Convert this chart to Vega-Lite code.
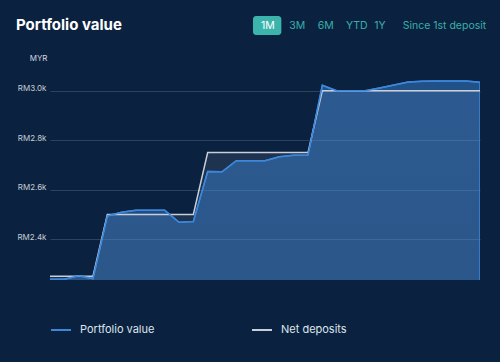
{
  "$schema": "https://vega.github.io/schema/vega-lite/v6.json",
  "width": 430,
  "height": 220,
  "autosize": {"type": "none"},
  "padding": {"left": 50, "top": 60, "right": 20, "bottom": 82},
  "background": "#0a2240",
  "title": {
    "text": "Portfolio value",
    "anchor": "start",
    "frame": "group",
    "dx": -34,
    "dy": 17,
    "offset": 0,
    "fontSize": 15,
    "fontWeight": "bold",
    "color": "#ffffff"
  },
  "datasets": {
    "ranges": [
      {"label": "1M"}, {"label": "3M"}, {"label": "6M"}, {"label": "YTD"}, {"label": "1Y"}, {"label": "Since 1st deposit"}
    ]
  },
  "data": {
    "values": [
      {"day": 0, "series": "Portfolio value", "value": 2238}, {"day": 0, "series": "Net deposits", "value": 2250},
      {"day": 1, "series": "Portfolio value", "value": 2238}, {"day": 1, "series": "Net deposits", "value": 2250},
      {"day": 2, "series": "Portfolio value", "value": 2252}, {"day": 2, "series": "Net deposits", "value": 2250},
      {"day": 3, "series": "Portfolio value", "value": 2241}, {"day": 3, "series": "Net deposits", "value": 2250},
      {"day": 4, "series": "Portfolio value", "value": 2494}, {"day": 4, "series": "Net deposits", "value": 2500},
      {"day": 5, "series": "Portfolio value", "value": 2509}, {"day": 5, "series": "Net deposits", "value": 2500},
      {"day": 6, "series": "Portfolio value", "value": 2517}, {"day": 6, "series": "Net deposits", "value": 2500},
      {"day": 7, "series": "Portfolio value", "value": 2517}, {"day": 7, "series": "Net deposits", "value": 2500},
      {"day": 8, "series": "Portfolio value", "value": 2517}, {"day": 8, "series": "Net deposits", "value": 2500},
      {"day": 9, "series": "Portfolio value", "value": 2468}, {"day": 9, "series": "Net deposits", "value": 2500},
      {"day": 10, "series": "Portfolio value", "value": 2471}, {"day": 10, "series": "Net deposits", "value": 2500},
      {"day": 11, "series": "Portfolio value", "value": 2673}, {"day": 11, "series": "Net deposits", "value": 2750},
      {"day": 12, "series": "Portfolio value", "value": 2672}, {"day": 12, "series": "Net deposits", "value": 2750},
      {"day": 13, "series": "Portfolio value", "value": 2717}, {"day": 13, "series": "Net deposits", "value": 2750},
      {"day": 14, "series": "Portfolio value", "value": 2717}, {"day": 14, "series": "Net deposits", "value": 2750},
      {"day": 15, "series": "Portfolio value", "value": 2717}, {"day": 15, "series": "Net deposits", "value": 2750},
      {"day": 16, "series": "Portfolio value", "value": 2733}, {"day": 16, "series": "Net deposits", "value": 2750},
      {"day": 17, "series": "Portfolio value", "value": 2739}, {"day": 17, "series": "Net deposits", "value": 2750},
      {"day": 18, "series": "Portfolio value", "value": 2740}, {"day": 18, "series": "Net deposits", "value": 2750},
      {"day": 19, "series": "Portfolio value", "value": 3022}, {"day": 19, "series": "Net deposits", "value": 3000},
      {"day": 20, "series": "Portfolio value", "value": 3000}, {"day": 20, "series": "Net deposits", "value": 3000},
      {"day": 21, "series": "Portfolio value", "value": 3000}, {"day": 21, "series": "Net deposits", "value": 3000},
      {"day": 22, "series": "Portfolio value", "value": 3000}, {"day": 22, "series": "Net deposits", "value": 3000},
      {"day": 23, "series": "Portfolio value", "value": 3011}, {"day": 23, "series": "Net deposits", "value": 3000},
      {"day": 24, "series": "Portfolio value", "value": 3023}, {"day": 24, "series": "Net deposits", "value": 3000},
      {"day": 25, "series": "Portfolio value", "value": 3035}, {"day": 25, "series": "Net deposits", "value": 3000},
      {"day": 26, "series": "Portfolio value", "value": 3038}, {"day": 26, "series": "Net deposits", "value": 3000},
      {"day": 27, "series": "Portfolio value", "value": 3039}, {"day": 27, "series": "Net deposits", "value": 3000},
      {"day": 28, "series": "Portfolio value", "value": 3039}, {"day": 28, "series": "Net deposits", "value": 3000},
      {"day": 29, "series": "Portfolio value", "value": 3039}, {"day": 29, "series": "Net deposits", "value": 3000},
      {"day": 30, "series": "Portfolio value", "value": 3034}, {"day": 30, "series": "Net deposits", "value": 3000}
    ]
  },
  "layer": [
    {
      "encoding": {
        "x": {"field": "day", "type": "quantitative", "scale": {"domain": [0, 30], "nice": false}, "axis": null},
        "y": {
          "field": "value", "type": "quantitative",
          "scale": {"domain": [2235, 3124], "nice": false, "zero": false},
          "axis": {
            "values": [2400, 2600, 2800, 3000],
            "labelExpr": "'RM' + format(datum.value / 1000, '.1f') + 'k'",
            "title": "MYR",
            "titleAngle": 0,
            "titleAlign": "right",
            "titleBaseline": "alphabetic",
            "titleX": -3,
            "titleY": 0,
            "titleFontSize": 8,
            "titleFontWeight": "normal",
            "titleColor": "#d0d7e0",
            "labelColor": "#c5ccd6",
            "labelFontSize": 8,
            "labelBaseline": "alphabetic",
            "labelPadding": 4,
            "ticks": false,
            "domain": false,
            "grid": true,
            "gridColor": "#ffffff",
            "gridOpacity": 0.15
          }
        }
      },
      "layer": [
        {
          "transform": [{"filter": "datum.series === 'Net deposits'"}],
          "mark": {"type": "area", "color": "#ffffff", "opacity": 0.08, "clip": true}
        },
        {
          "transform": [{"filter": "datum.series === 'Portfolio value'"}],
          "mark": {
            "type": "area",
            "clip": true,
            "stroke": "#3d87db",
            "strokeWidth": 1.5,
            "color": {
              "gradient": "linear", "x1": 0, "y1": 0, "x2": 0, "y2": 1,
              "stops": [
                {"offset": 0, "color": "rgba(63,138,224,0.45)"},
                {"offset": 1, "color": "rgba(63,138,224,0.28)"}
              ]
            }
          }
        },
        {
          "transform": [{"filter": "datum.series === 'Net deposits'"}],
          "mark": {"type": "line", "strokeWidth": 1.5, "clip": true},
          "encoding": {
            "color": {
              "field": "series", "type": "nominal",
              "scale": {"domain": ["Portfolio value", "Net deposits"], "range": ["#3d87db", "#c8cfd8"]},
              "legend": {
                "orient": "none", "legendX": 0, "legendY": 259, "direction": "horizontal",
                "title": null, "symbolType": "stroke", "symbolSize": 400, "symbolStrokeWidth": 2,
                "labelColor": "#dfe5ec", "labelFontSize": 11, "labelOffset": 8, "columnPadding": 93
              }
            }
          }
        },
        {
          "transform": [{"filter": "datum.series === 'Portfolio value'"}],
          "mark": {"type": "line", "strokeWidth": 1.5, "clip": true},
          "encoding": {
            "color": {"field": "series", "type": "nominal"}
          }
        }
      ]
    },
    {
      "data": {"name": "ranges"},
      "transform": [{"filter": "datum.label === '1M'"}],
      "mark": {"type": "rect", "color": "#3cb4ac", "cornerRadius": 3, "y": -44, "y2": -25},
      "encoding": {
        "x": {"field": "label", "type": "nominal", "scale": {"type": "band", "domain": ["1M", "3M", "6M", "YTD", "1Y", "Since 1st deposit"], "range": [203, 373], "paddingInner": 0, "paddingOuter": 0}, "axis": null}
      }
    },
    {
      "data": {"name": "ranges"},
      "mark": {"type": "text", "align": "left", "baseline": "middle", "xOffset": 8, "y": -34.5, "fontSize": 10.5},
      "encoding": {
        "x": {"field": "label", "type": "nominal", "bandPosition": 0, "scale": {"type": "band", "domain": ["1M", "3M", "6M", "YTD", "1Y", "Since 1st deposit"], "range": [203, 373], "paddingInner": 0, "paddingOuter": 0}, "axis": null},
        "text": {"field": "label"},
        "color": {"condition": {"test": "datum.label === '1M'", "value": "#ffffff"}, "value": "#3aaea8"}
      }
    }
  ],
  "resolve": {"scale": {"x": "independent"}},
  "config": {
    "font": "Inter",
    "view": {"stroke": null}
  }
}
